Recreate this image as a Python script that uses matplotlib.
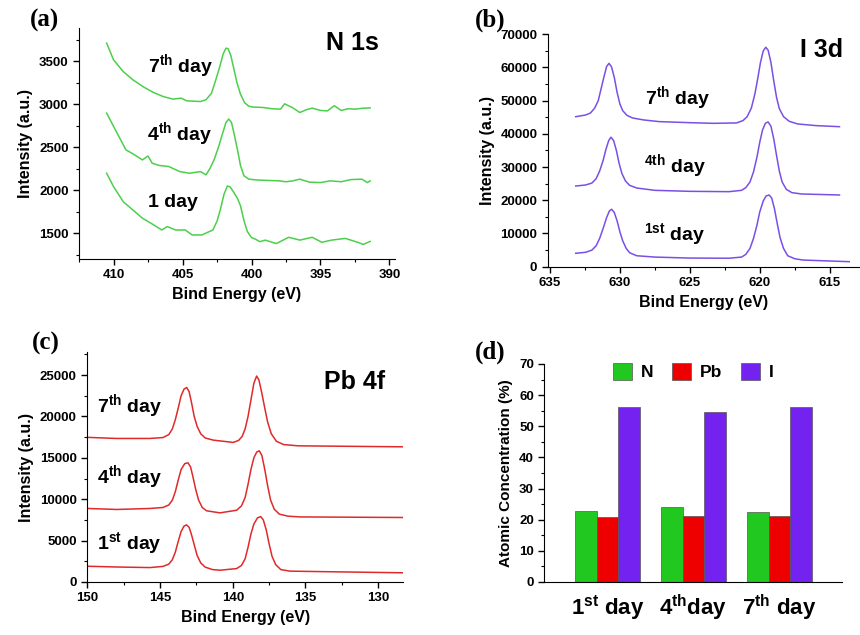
import matplotlib
matplotlib.use('Agg')
import matplotlib.pyplot as plt
from matplotlib.ticker import MultipleLocator

plt.rcParams['font.family'] = ['Liberation Sans', 'DejaVu Sans']
plt.rcParams['font.weight'] = 'bold'
plt.rcParams['axes.labelweight'] = 'bold'
plt.rcParams['mathtext.fontset'] = 'custom'
plt.rcParams['mathtext.rm'] = 'Liberation Sans:bold'
plt.rcParams['mathtext.bf'] = 'Liberation Sans:bold'

# (a) N 1s
n_e7 = [410.5, 410.0, 409.3, 408.6, 407.8, 407.1, 406.4, 405.7, 405.1, 404.7, 403.7, 403.3, 402.9, 402.6,
        402.3, 402.05, 401.85, 401.7, 401.5, 401.3, 401.05, 400.8, 400.5, 400.2, 399.9, 399.2, 398.5, 397.9,
        397.6, 397.0, 396.5, 396.0, 395.6, 395.0, 394.5, 394.0, 393.5, 393.0, 392.5, 392.0, 391.4]
n_y7 = [3714, 3520, 3383, 3287, 3201, 3139, 3092, 3062, 3073, 3042, 3034, 3054, 3130, 3280,
        3440, 3590, 3655, 3650, 3570, 3430, 3250, 3120, 3020, 2980, 2969, 2965, 2950, 2945,
        3007, 2960, 2906, 2940, 2957, 2930, 2925, 2985, 2930, 2950, 2945, 2955, 2960]
n_e4 = [410.5, 409.8, 409.1, 408.6, 407.9, 407.5, 407.2, 406.7, 406.0, 405.2, 404.5, 403.7, 403.3, 403.0,
        402.7, 402.4, 402.1, 401.85, 401.65, 401.45, 401.25, 401.0, 400.8, 400.55, 400.2, 399.6, 398.8,
        398.0, 397.5, 397.0, 396.5, 395.8, 395.0, 394.3, 393.5, 392.8, 392.0, 391.6, 391.4]
n_y4 = [2899, 2684, 2471, 2425, 2354, 2400, 2316, 2290, 2277, 2218, 2199, 2218, 2180, 2257,
        2360, 2500, 2660, 2790, 2830, 2790, 2650, 2460, 2290, 2170, 2130, 2120, 2115,
        2110, 2100, 2110, 2130, 2095, 2090, 2110, 2100, 2125, 2130, 2090, 2110]
n_e1 = [410.5, 410.0, 409.3, 408.6, 407.9, 407.2, 406.5, 406.1, 405.5, 404.8, 404.3, 403.6, 402.8, 402.5,
        402.25, 402.0, 401.75, 401.55, 401.3, 401.0, 400.8, 400.55, 400.3, 400.0, 399.7, 399.4, 399.0,
        398.2, 397.3, 396.5, 395.6, 394.9, 394.2, 393.2, 392.3, 391.9, 391.4]
n_y1 = [2199, 2043, 1868, 1771, 1675, 1608, 1538, 1578, 1538, 1538, 1480, 1480, 1538, 1640,
        1780, 1950, 2050, 2040, 1980, 1900, 1820, 1650, 1520, 1450, 1430, 1402, 1420,
        1380, 1453, 1420, 1453, 1395, 1420, 1440, 1395, 1370, 1405]

# (b) I 3d
i_e7 = [633.16, 632.45, 632.1, 631.8, 631.55, 631.35, 631.15, 630.95, 630.78, 630.6, 630.4, 630.2, 630.0,
        629.8, 629.5, 629.1, 628.3, 627.2, 625.0, 623.3, 621.66, 621.2, 620.9, 620.6, 620.35, 620.15,
        619.95, 619.75, 619.57, 619.4, 619.2, 619.0, 618.8, 618.6, 618.3, 617.9, 617.3, 616.0, 614.3]
i_y7 = [45180, 45690, 46300, 47800, 50000, 53500, 57000, 60300, 61250, 60200, 57000, 52500, 49000,
        47000, 45600, 44800, 44200, 43700, 43380, 43180, 43300, 44000, 45200, 47800, 52000, 56500,
        61500, 65000, 66100, 65200, 61500, 56000, 51000, 47600, 45200, 43800, 43000, 42500, 42170]
i_e4 = [633.16, 632.45, 632.0, 631.7, 631.45, 631.2, 631.0, 630.8, 630.64, 630.45, 630.25, 630.05, 629.85,
        629.6, 629.3, 628.8, 627.5, 625.0, 622.2, 621.3, 621.0, 620.7, 620.45, 620.2, 620.0, 619.8,
        619.6, 619.4, 619.2, 619.0, 618.8, 618.6, 618.4, 618.1, 617.7, 617.0, 614.3]
i_y4 = [24300, 24610, 25200, 26500, 28800, 32000, 35300, 38000, 39000, 38000, 35000, 31000, 28000,
        25800, 24500, 23700, 23000, 22700, 22600, 23000, 23800, 25500, 28500, 33000, 37500, 41200,
        43200, 43600, 42300, 38500, 33500, 28800, 25500, 23300, 22300, 21900, 21600]
i_e1 = [633.16, 632.45, 632.0, 631.7, 631.45, 631.2, 630.95, 630.75, 630.59, 630.4, 630.2, 630.0, 629.8,
        629.55, 629.3, 628.8, 627.5, 625.0, 622.2, 621.3, 621.0, 620.7, 620.45, 620.2, 620.0, 619.75,
        619.55, 619.33, 619.15, 618.95, 618.75, 618.55, 618.3, 618.0, 617.5, 616.9, 613.6]
i_y1 = [4040, 4340, 5000, 6300, 8500, 11500, 14800, 16800, 17300, 16300, 13800, 10500, 7800,
        5500, 4200, 3300, 2900, 2600, 2550, 2900, 3700, 5500, 8500, 12500, 16500, 19800,
        21300, 21600, 20700, 17500, 13000, 8800, 5500, 3300, 2400, 2000, 1510]

# (c) Pb 4f
p_e7 = [149.93, 147.98, 145.7, 144.8, 144.4, 144.15, 143.95, 143.75, 143.55, 143.35, 143.17, 143.0, 142.85,
        142.65, 142.45, 142.2, 141.9, 141.34, 139.97, 139.6, 139.35, 139.15, 138.95, 138.75, 138.55, 138.36,
        138.2, 138.0, 137.8, 137.6, 137.35, 137.0, 136.5, 135.5, 133.1, 128.28]
p_y7 = [17470, 17340, 17340, 17450, 17800, 18500, 19600, 21000, 22500, 23300, 23500, 23000, 21800,
        20000, 18800, 17900, 17400, 17140, 16860, 17100, 17600, 18500, 20000, 22000, 24000, 24880,
        24400, 22800, 21000, 19300, 17900, 17000, 16600, 16450, 16410, 16330]
p_e4 = [149.93, 147.98, 145.7, 144.8, 144.4, 144.15, 143.95, 143.75, 143.55, 143.3, 143.08, 142.9, 142.75,
        142.55, 142.35, 142.1, 141.8, 140.88, 139.73, 139.4, 139.15, 138.95, 138.75, 138.55, 138.35, 138.18,
        138.0, 137.8, 137.6, 137.4, 137.15, 136.8, 136.2, 135.38, 128.28]
p_y4 = [8880, 8760, 8880, 9000, 9300, 9900, 10900, 12300, 13600, 14300, 14400, 13900, 12800,
        11200, 9900, 9000, 8600, 8350, 8670, 9200, 10200, 11800, 13600, 15000, 15700, 15850,
        15300, 13600, 11600, 9900, 8800, 8200, 7950, 7860, 7790]
p_e1 = [149.93, 147.98, 145.7, 144.8, 144.4, 144.15, 143.95, 143.75, 143.55, 143.35, 143.18, 143.0, 142.85,
        142.65, 142.45, 142.2, 141.9, 141.4, 140.88, 139.73, 139.4, 139.15, 138.95, 138.75, 138.55, 138.3,
        138.08, 137.9, 137.7, 137.5, 137.3, 137.05, 136.7, 136.07, 133.1, 128.28]
p_y1 = [1900, 1810, 1740, 1880, 2150, 2700, 3600, 4900, 6100, 6750, 6900, 6600, 5800,
        4500, 3200, 2300, 1800, 1500, 1420, 1620, 2000, 2800, 4200, 5800, 7000, 7750,
        7900, 7500, 6300, 4600, 3100, 2100, 1500, 1310, 1230, 1110]

# (d) atomic concentration
days = ['1$^{\\mathrm{st}}$ day', '4$^{\\mathrm{th}}$day', '7$^{\\mathrm{th}}$ day']
conc_N = [22.8, 24.1, 22.4]
conc_Pb = [20.9, 21.3, 21.3]
conc_I = [56.2, 54.5, 56.2]

green_line = '#4ccf4c'
purple_line = '#7a4fe6'
red_line = '#e02a2a'

fig = plt.figure(figsize=(8.6, 6.35), dpi=100)


def style(ax):
    ax.spines['top'].set_visible(False)
    ax.spines['right'].set_visible(False)
    ax.tick_params(which='major', direction='out', length=4, width=1, labelsize=9.5)
    ax.tick_params(which='minor', direction='out', length=2, width=0.8)
    for lab in ax.get_xticklabels() + ax.get_yticklabels():
        lab.set_fontweight('bold')


# --- (a) ---
ax1 = fig.add_axes([0.0919, 0.5921, 0.3674, 0.3638])
ax1.plot(n_e7, n_y7, color=green_line, lw=1.1)
ax1.plot(n_e4, n_y4, color=green_line, lw=1.1)
ax1.plot(n_e1, n_y1, color=green_line, lw=1.1)
ax1.set_xlim(412.5, 389.6)
ax1.set_ylim(1200, 3890)
ax1.xaxis.set_major_locator(MultipleLocator(5))
ax1.xaxis.set_minor_locator(MultipleLocator(2.5))
ax1.yaxis.set_major_locator(MultipleLocator(500))
ax1.yaxis.set_minor_locator(MultipleLocator(250))
ax1.set_xlabel('Bind Energy (eV)', fontsize=11.5)
ax1.set_ylabel('Intensity (a.u.)', fontsize=11.5)
style(ax1)
ax1.text(407.5, 3442, '7$^{\\mathrm{th}}$ day', fontsize=14, va='center')
ax1.text(407.6, 2646, '4$^{\\mathrm{th}}$ day', fontsize=14, va='center')
ax1.text(407.5, 1861, '1 day', fontsize=14, va='center')
ax1.text(390.8, 3714, 'N 1s', fontsize=18, va='center', ha='right')

# --- (b) ---
ax2 = fig.add_axes([0.6369, 0.580, 0.362, 0.366])
ax2.plot(i_e7, i_y7, color=purple_line, lw=1.1)
ax2.plot(i_e4, i_y4, color=purple_line, lw=1.1)
ax2.plot(i_e1, i_y1, color=purple_line, lw=1.1)
ax2.set_xlim(635.16, 612.9)
ax2.set_ylim(0, 70000)
ax2.xaxis.set_major_locator(MultipleLocator(5))
ax2.xaxis.set_minor_locator(MultipleLocator(2.5))
ax2.yaxis.set_major_locator(MultipleLocator(10000))
ax2.yaxis.set_minor_locator(MultipleLocator(5000))
ax2.set_xlabel('Bind Energy (eV)', fontsize=11.5)
ax2.set_ylabel('Intensity (a.u.)', fontsize=11.5)
style(ax2)
ax2.text(628.2, 50720, '7$^{\\mathrm{th}}$ day', fontsize=14, va='center')
ax2.text(628.3, 30120, '$^{\\mathrm{4th}}$ day', fontsize=14, va='center')
ax2.text(628.3, 9550, '$^{\\mathrm{1st}}$ day', fontsize=14, va='center')
ax2.text(614.05, 65270, 'I 3d', fontsize=18, va='center', ha='right')

# --- (c) ---
ax3 = fig.add_axes([0.1015, 0.0835, 0.3674, 0.3617])
ax3.plot(p_e7, p_y7, color=red_line, lw=1.1)
ax3.plot(p_e4, p_y4, color=red_line, lw=1.1)
ax3.plot(p_e1, p_y1, color=red_line, lw=1.1)
ax3.set_xlim(150, 128.28)
ax3.set_ylim(0, 27750)
ax3.xaxis.set_major_locator(MultipleLocator(5))
ax3.xaxis.set_minor_locator(MultipleLocator(2.5))
ax3.yaxis.set_major_locator(MultipleLocator(5000))
ax3.yaxis.set_minor_locator(MultipleLocator(2500))
ax3.set_xlabel('Bind Energy (eV)', fontsize=11.5)
ax3.set_ylabel('Intensity (a.u.)', fontsize=11.5)
style(ax3)
ax3.text(149.3, 21130, '7$^{\\mathrm{th}}$ day', fontsize=14, va='center')
ax3.text(149.3, 12540, '4$^{\\mathrm{th}}$ day', fontsize=14, va='center')
ax3.text(149.3, 4680, '1$^{\\mathrm{st}}$ day', fontsize=14, va='center')
ax3.text(129.5, 24190, 'Pb 4f', fontsize=18, va='center', ha='right')

# --- (d) ---
ax4 = fig.add_axes([0.6329, 0.0835, 0.3465, 0.3433])
x = [1, 2, 3]
w = 0.252
ax4.bar([i - w for i in x], conc_N, w, color='#20c820', edgecolor='#555555', lw=0.5, label='N')
ax4.bar(x, conc_Pb, w, color='#ee0000', edgecolor='#555555', lw=0.5, label='Pb')
ax4.bar([i + w for i in x], conc_I, w, color='#7322f0', edgecolor='#555555', lw=0.5, label='I')
ax4.set_xlim(0.265, 3.73)
ax4.set_ylim(0, 70)
ax4.yaxis.set_major_locator(MultipleLocator(10))
ax4.yaxis.set_minor_locator(MultipleLocator(5))
ax4.set_xticks(x)
ax4.set_xticklabels(days)
ax4.set_ylabel('Atomic Concentration (%)', fontsize=11)
style(ax4)
ax4.tick_params(axis='x', length=0, labelsize=16, pad=8)
ax4.legend(loc='upper center', bbox_to_anchor=(0.5, 1.075), ncol=3, frameon=False, fontsize=12.5,
           handlelength=1.1, handleheight=1.1, columnspacing=1.1, handletextpad=0.5)

# panel letters
for lab, px, py in [('(a)', 30, 20), ('(b)', 475, 20), ('(c)', 32, 343), ('(d)', 475, 352)]:
    fig.text(px / 860, 1 - py / 635, lab, fontsize=18, family='Liberation Serif', weight='bold', va='center')

fig.savefig('out.png', dpi=100)
